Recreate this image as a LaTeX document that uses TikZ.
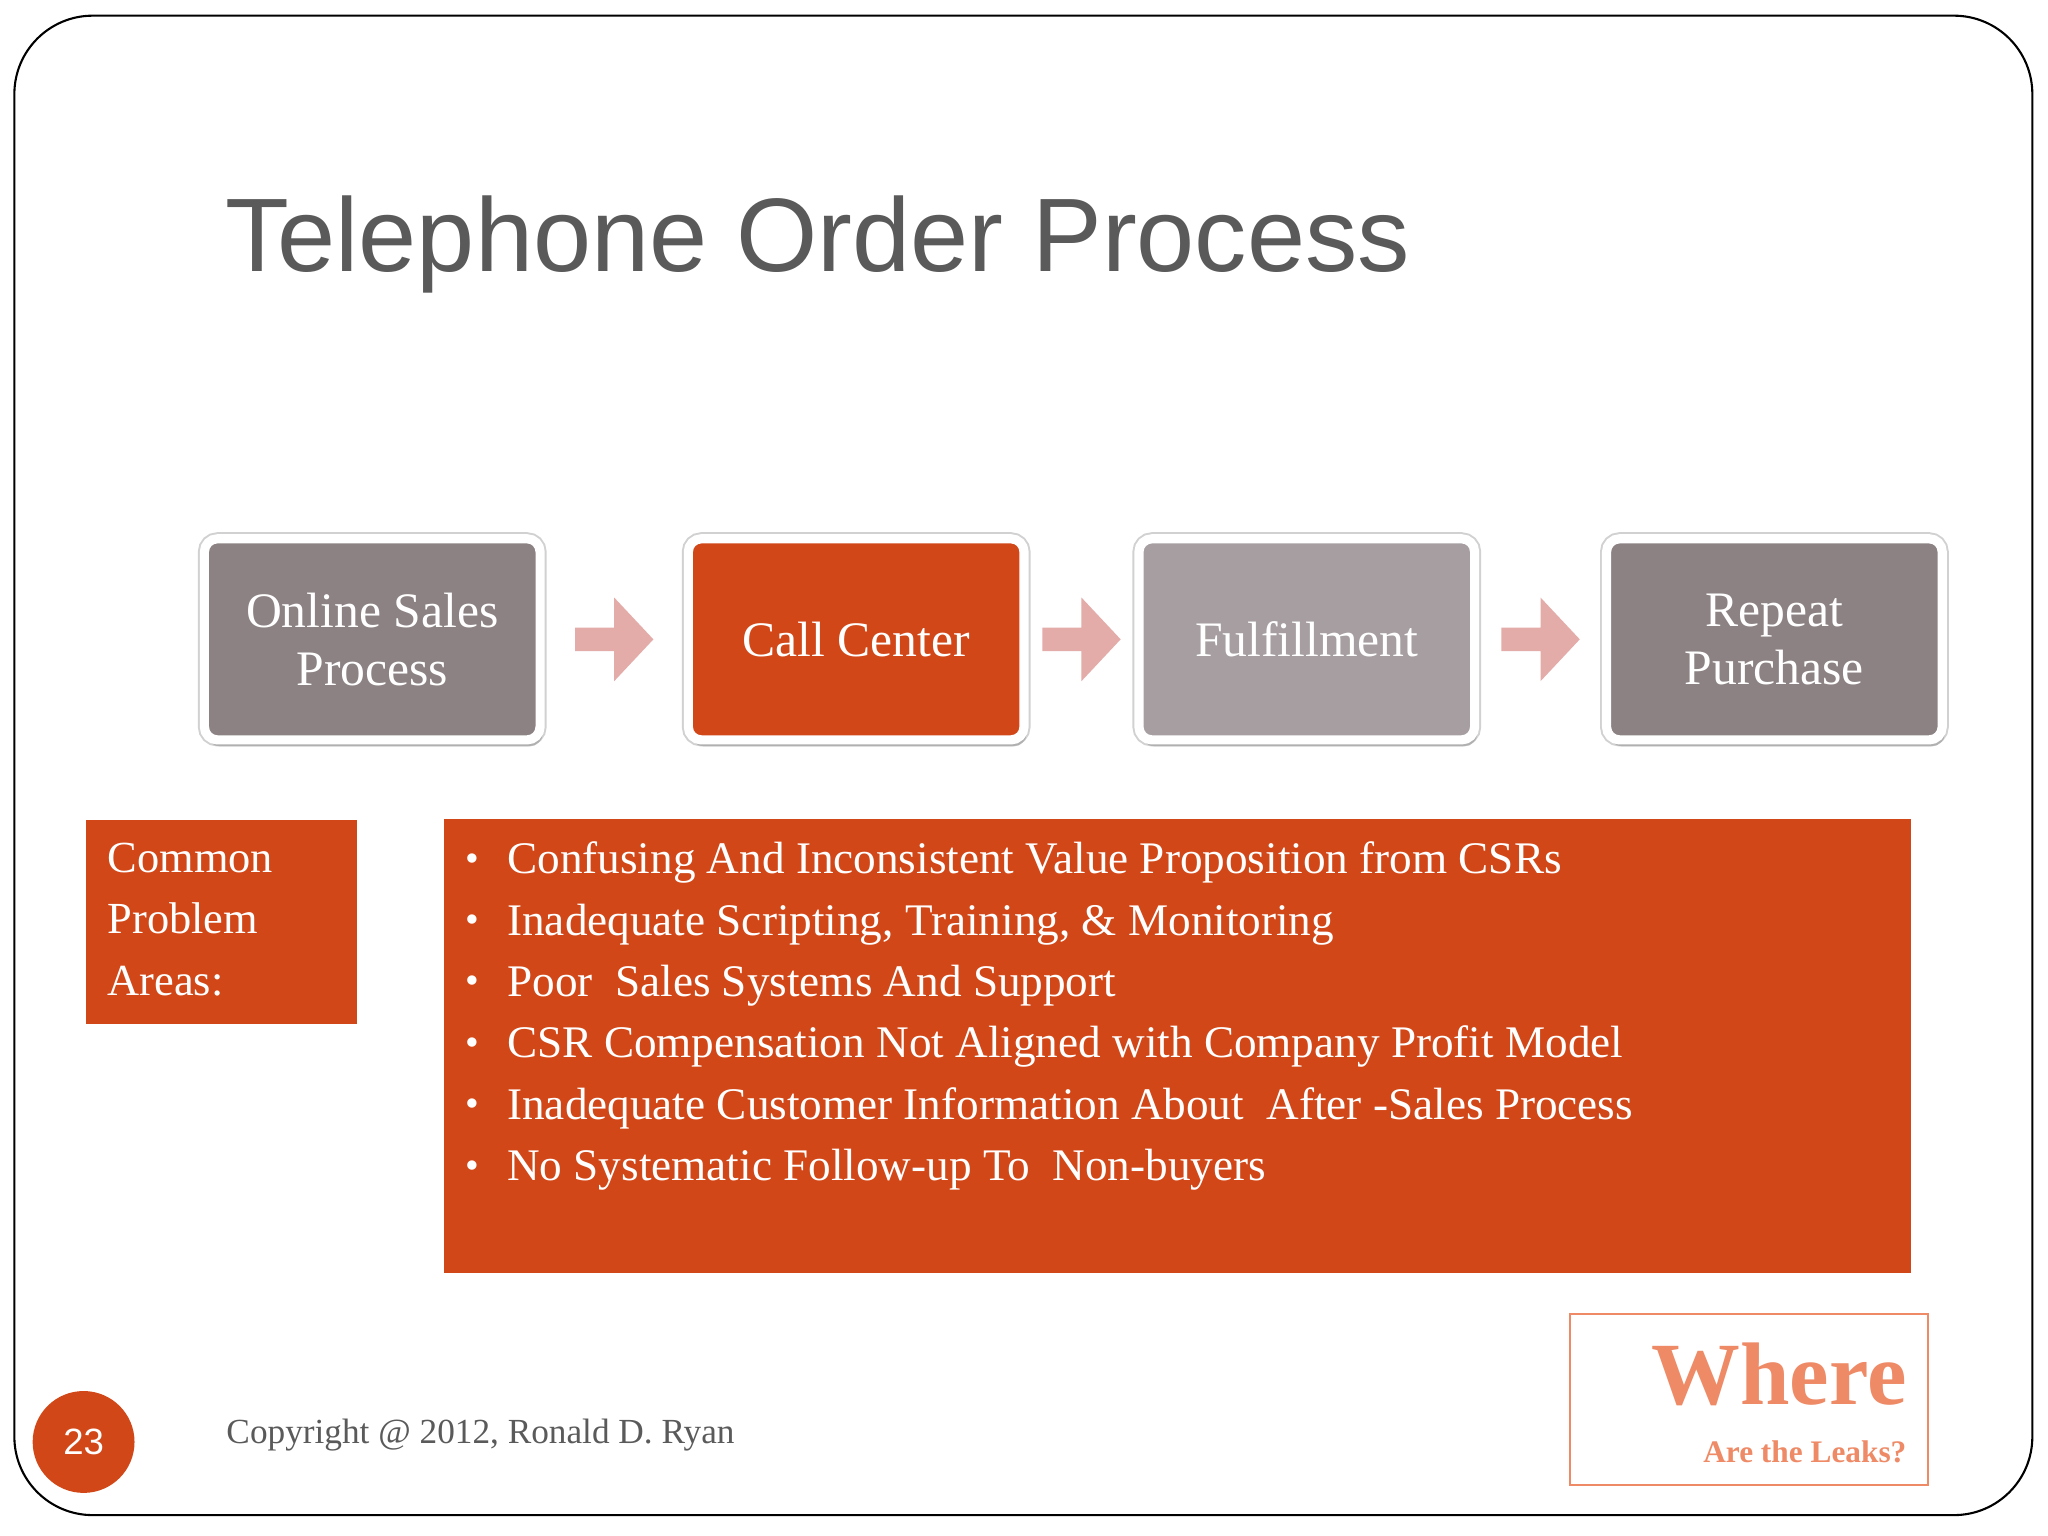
\documentclass[tikz,border=0pt]{standalone}
\usepackage{fontspec}
\setmainfont{Liberation Serif}
\newfontfamily\sansf{Liberation Sans}
\usetikzlibrary{shadows}
\definecolor{org}{HTML}{D24718}
\definecolor{gA}{HTML}{8C8283}
\definecolor{gB}{HTML}{A69EA0}
\definecolor{pk}{HTML}{E4ACA8}
\definecolor{sal}{HTML}{EE8A66}
\definecolor{tg}{HTML}{5A5A5A}
\tikzset{
 stepbox/.style={draw=white,line width=3.5pt,rounded corners=5pt,minimum width=128.5pt,minimum height=77pt,align=center,text=white,font=\fontsize{19}{22}\selectfont,preaction={draw=black!18,line width=5pt},drop shadow={shadow xshift=1pt,shadow yshift=-2.5pt,opacity=0.4}},
}
\begin{document}
\begin{tikzpicture}[x=0.5pt,y=-0.5pt]
\useasboundingbox (0,0) rectangle (1568,1176);
\fill[white] (0,0) rectangle (1568,1176);
\draw[line width=0.8pt,rounded corners=30pt] (11,12) rectangle (1556,1160);
\node[anchor=base west,text=tg,font=\sansf\fontsize{40}{44}\selectfont,inner sep=0] (title) at (172,208) {Telephone Order Process};
\node[stepbox,fill=gA] (b1) at (285,489.5) {Online Sales\\Process};
\node[stepbox,fill=org] (b2) at (655.5,489.5) {Call Center};
\node[stepbox,fill=gB] (b3) at (1000.5,489.5) {Fulfillment};
\node[stepbox,fill=gA] (b4) at (1358.5,489.5) {Repeat\\Purchase};
\foreach \a/\b in {b1/b2,b2/b3,b3/b4}{
 \path (\a.east) -- (\b.west) coordinate[pos=0.5] (m\a);
 \fill[pk] ([shift={(-30,-9)}]m\a) -- ([shift={(0,-9)}]m\a) -- ([shift={(0,-32)}]m\a) -- ([shift={(30,0)}]m\a) -- ([shift={(0,32)}]m\a) -- ([shift={(0,9)}]m\a) -- ([shift={(-30,9)}]m\a) -- cycle;
}
\node[fill=org,minimum width=103.5pt,minimum height=78pt,inner sep=0] (cp) at (169.5,706) {};
\node[anchor=north west,text=white,align=left,font=\fontsize{17}{23.5}\selectfont,inner sep=0] (cpt) at (82,645) {Common\\Problem\\Areas:};
\node[fill=org,minimum width=561.5pt,minimum height=174pt,inner sep=0] (list) at (901.5,801) {};
\foreach \t [count=\i] in {Confusing And Inconsistent Value Proposition from CSRs,{Inadequate Scripting, Training, \& Monitoring},Poor\ \ Sales Systems And Support,CSR Compensation Not Aligned with Company Profit Model,Inadequate Customer Information About\ \ After -Sales Process,No Systematic Follow-up To\ \ Non-buyers}{
 \node[anchor=base west,text=white,font=\fontsize{17.3}{20}\selectfont,inner sep=0] (l\i) at (388,{658+47*(\i-1)+11}) {\t};
 \node[anchor=base west,text=white,font=\fontsize{15}{18}\selectfont,inner sep=0] (d\i) at (356,{658+47*(\i-1)+9}) {•};
}
\node[draw=sal,line width=0.8pt,minimum width=137pt,minimum height=65.5pt] (wb) at (1339,1071.5) {};
\node[anchor=base east,text=sal,font=\bfseries\fontsize{34}{36}\selectfont,inner sep=0] (wh) at (1460,1075) {Where};
\node[anchor=base east,text=sal,font=\bfseries\fontsize{12}{13}\selectfont,inner sep=0] (wl) at (1460,1120) {Are the Leaks?};
\node[circle,fill=org,minimum size=39pt,inner sep=0,text=white,font=\sansf\fontsize{14}{16}\selectfont] (pg) at (64,1104) {23};
\node[anchor=base west,text=tg,font=\fontsize{13.5}{15}\selectfont,inner sep=0] (cr) at (173,1105) {Copyright @ 2012, Ronald D. Ryan};
\end{tikzpicture}
\end{document}
